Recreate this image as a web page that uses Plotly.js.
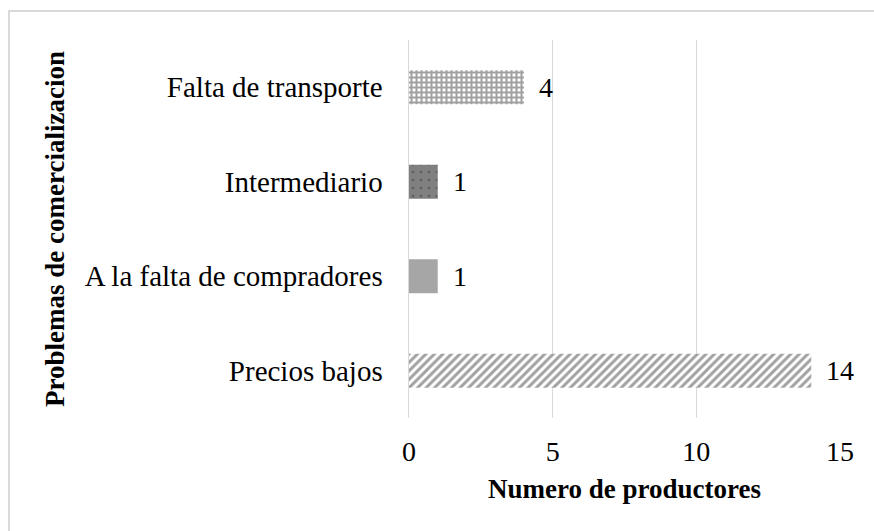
<!DOCTYPE html>
<html>
<head>
<meta charset="utf-8">
<script src="https://cdn.plot.ly/plotly-3.0.1.min.js"></script>
<style>
  body { margin: 0; overflow: hidden; background: #fff; }
  #frame { position: absolute; left: 8px; top: 10px; width: 900px; height: 560px; border: 2px solid #d9d9d9; }
  #chart { position: absolute; left: 0; top: 0; width: 874px; height: 531px; }
</style>
</head>
<body>
<div id="frame"></div>
<div id="chart"></div>
<script>
const categories = ['Falta de transporte', 'Intermediario', 'A la falta de compradores', 'Precios bajos'];
const values = [4, 1, 1, 14];
const patternShapes = ['+', '.', '', '/'];

const serif = "'Liberation Serif', 'Times New Roman', serif";

const trace = {
  type: 'bar',
  orientation: 'h',
  x: values,
  y: categories,
  hoverinfo: 'x+y',
  marker: {
    color: ['#ffffff', '#808080', '#a6a6a6', '#ffffff'],
    line: { width: 0 },
    pattern: {
      shape: patternShapes,
      fgcolor: ['#808080', '#ffffff', '#a6a6a6', '#8c8c8c'],
      size: [5, 8, 8, 6],
      solidity: [0.65, 0.12, 0.3, 0.5],
      fillmode: 'overlay'
    }
  }
};

const labels = values.map(function (v, i) {
  return {
    x: v,
    y: categories[i],
    xref: 'x',
    yref: 'y',
    text: String(v),
    showarrow: false,
    xanchor: 'left',
    xshift: 13,
    font: { family: serif, size: 28, color: '#000000' }
  };
});

const layout = {
  width: 874,
  height: 531,
  margin: { t: 40, r: 34, l: 409, b: 113 },
  paper_bgcolor: 'rgba(0,0,0,0)',
  plot_bgcolor: 'rgba(0,0,0,0)',
  font: { family: serif, size: 28, color: '#000000' },
  showlegend: false,
  bargap: 0.64,
  xaxis: {
    range: [0, 15],
    dtick: 5,
    showgrid: true,
    gridcolor: '#d9d9d9',
    gridwidth: 1.5,
    zeroline: false,
    showline: false,
    ticks: '',
    ticklabelstandoff: 14,
    tickfont: { family: serif, size: 28 },
    title: {
      text: '<b>Numero de productores</b>',
      font: { family: serif, size: 27 },
      standoff: 13
    }
  },
  yaxis: {
    autorange: 'reversed',
    showgrid: false,
    zeroline: false,
    showline: true,
    linecolor: '#d9d9d9',
    linewidth: 1.5,
    ticks: '',
    ticklabelstandoff: 19,
    tickfont: { family: serif, size: 29 },
    title: {
      text: '<b>Problemas de comercializacion</b>',
      font: { family: serif, size: 27 },
      standoff: 12
    }
  },
  annotations: labels
};

Plotly.newPlot('chart', [trace], layout, { displayModeBar: false, staticPlot: true });
</script>
</body>
</html>
